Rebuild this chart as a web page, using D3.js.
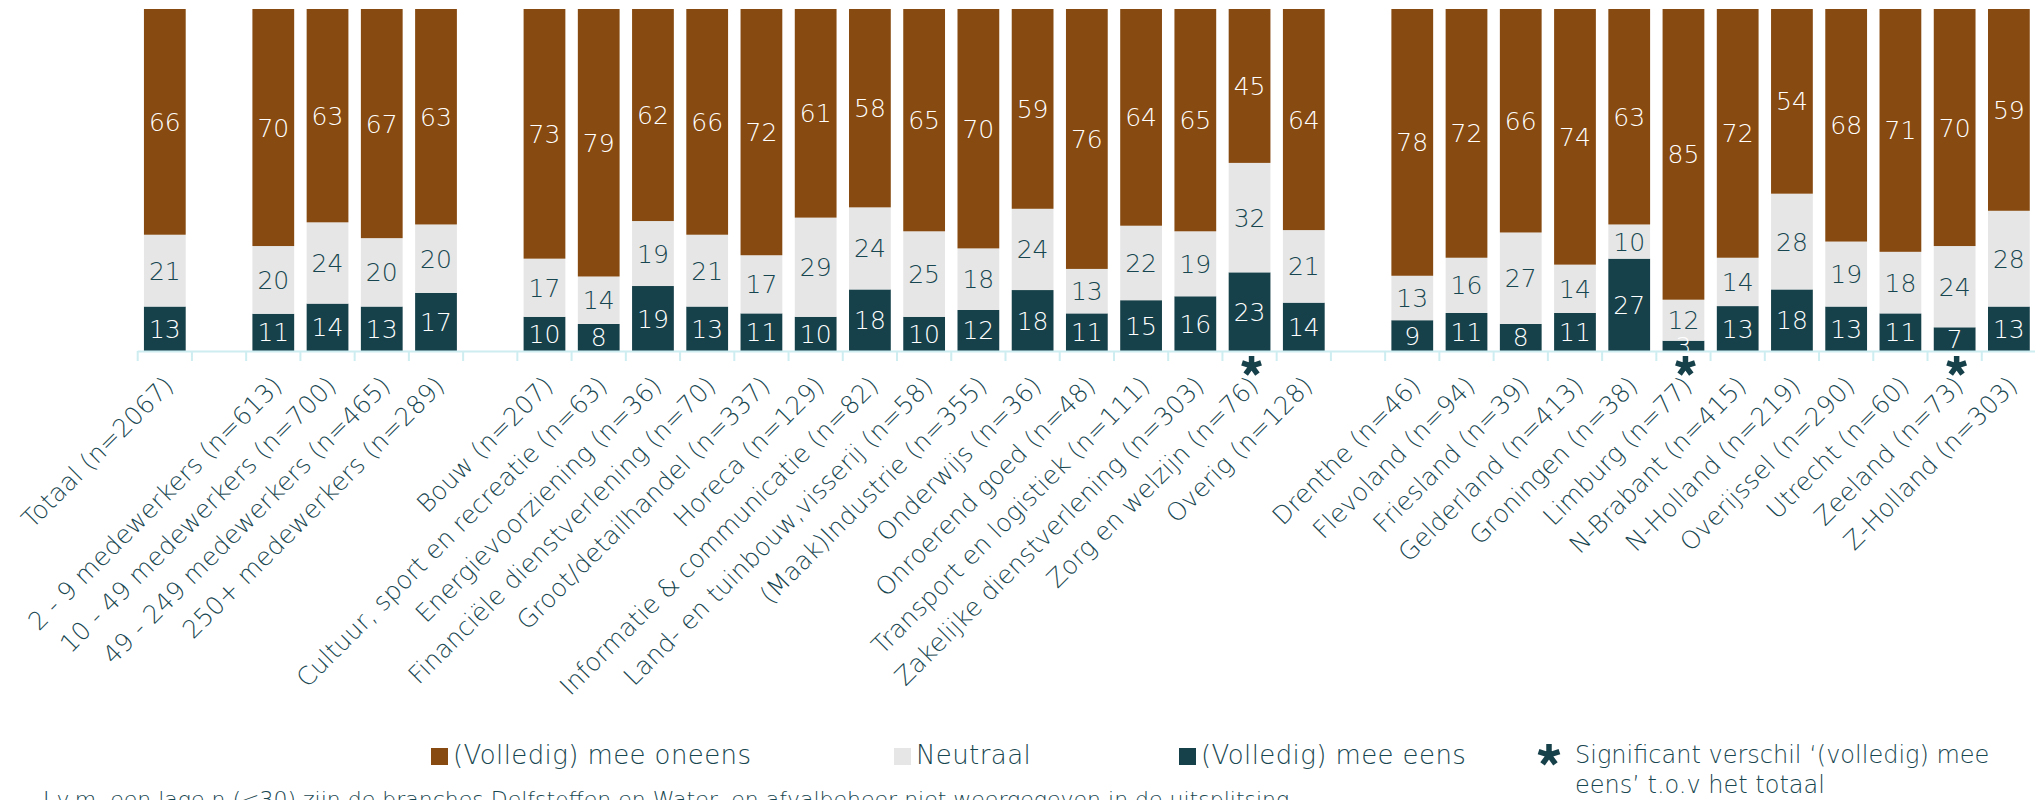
<!DOCTYPE html>
<html>
<head>
<meta charset="utf-8">
<script src="https://cdn.jsdelivr.net/npm/d3@7"></script>
<style>
  body{margin:0;background:#fff;}
  svg{display:block;}
</style>
</head>
<body>
<div id="chart"></div>
<script>

// categorieen; een lege string is een lege kolom tussen de groepen
const categories = [
  'Totaal (n=2067)', '',
  '2 - 9 medewerkers (n=613)', '10 - 49 medewerkers (n=700)', '49 - 249 medewerkers (n=465)', '250+ medewerkers (n=289)', '',
  'Bouw (n=207)', 'Cultuur, sport en recreatie (n=63)', 'Energievoorziening (n=36)', 'Financiële dienstverlening (n=70)',
  'Groot/detailhandel (n=337)', 'Horeca (n=129)', 'Informatie & communicatie (n=82)', 'Land- en tuinbouw,visserij (n=58)',
  '(Maak)Industrie (n=355)', 'Onderwijs (n=36)', 'Onroerend goed (n=48)', 'Transport en logistiek (n=111)',
  'Zakelijke dienstverlening (n=303)', 'Zorg en welzijn (n=76)', 'Overig (n=128)', '',
  'Drenthe (n=46)', 'Flevoland (n=94)', 'Friesland (n=39)', 'Gelderland (n=413)', 'Groningen (n=38)', 'Limburg (n=77)',
  'N-Brabant (n=415)', 'N-Holland (n=219)', 'Overijssel (n=290)', 'Utrecht (n=60)', 'Zeeland (n=73)', 'Z-Holland (n=303)'
];

const oneens = [66, null, 70, 63, 67, 63, null, 73, 79, 62, 66, 72, 61, 58, 65, 70, 59, 76, 64, 65, 45, 64, null,
  78, 72, 66, 74, 63, 85, 72, 54, 68, 71, 70, 59];
const neutraal = [21, null, 20, 24, 20, 20, null, 17, 14, 19, 21, 17, 29, 24, 25, 18, 24, 13, 22, 19, 32, 21, null,
  13, 16, 27, 14, 10, 12, 14, 28, 19, 18, 24, 28];
const eens = [13, null, 11, 14, 13, 17, null, 10, 8, 19, 13, 11, 10, 18, 10, 12, 18, 11, 15, 16, 23, 14, null,
  9, 11, 8, 11, 27, 3, 13, 18, 13, 11, 7, 13];

// significant verschil '(volledig) mee eens' t.o.v. het totaal
const significant = ['Zorg en welzijn (n=76)', 'Limburg (n=77)', 'Zeeland (n=73)'];

const seriesKeys = ['eens', 'neutraal', 'oneens'];
const seriesNames = {oneens: '(Volledig) mee oneens', neutraal: 'Neutraal', eens: '(Volledig) mee eens'};
const footnote = 'I.v.m. een lage n (<30) zijn de branches Delfstoffen en Water- en afvalbeheer niet weergegeven in de uitsplitsing.';


class StackedBarChart{
  constructor(container){
    this.container = container;
    this.width = 2035;
    this.height = 800;
    this.left = 137.7;
    this.right = 2036;
    this.top = 9;
    this.bottom = 351;

    this.colors = {oneens: '#874a10', neutraal: '#e6e6e6', eens: '#17414a'};
    this.textColor = '#174650';
    this.axisColor = '#cdedf1';
    this.font = '"DejaVu Sans", sans-serif';

    this.svg = d3.select(this.container).append('svg')
      .attr('width', this.width)
      .attr('height', this.height)
      .style('background', '#fff');
  }

  draw(){
    var rows = [];
    for(var i = 0; i < categories.length; i++){
      if(!categories[i]) continue;
      rows.push({idx: i, name: categories[i], oneens: oneens[i], neutraal: neutraal[i], eens: eens[i]});
    }

    this.x = d3.scaleBand()
      .domain(d3.range(categories.length))
      .range([this.left, this.right])
      .paddingInner(0.23)
      .paddingOuter(0.115);

    this.y = d3.scaleLinear().domain([0, 1]).range([this.bottom, this.top]);

    // elke kolom telt op tot 100%
    var stacked = d3.stack().keys(seriesKeys).offset(d3.stackOffsetExpand)(rows);

    this.drawBars(stacked);
    this.drawAxis(rows);
    this.drawLegend();
  }

  drawBars(stacked){
    const x = this.x, y = this.y, that = this;

    const layer = this.svg.append('g').selectAll('g')
      .data(stacked)
      .join('g')
      .attr('fill', d => that.colors[d.key]);

    layer.selectAll('rect')
      .data(d => d)
      .join('rect')
      .attr('x', d => x(d.data.idx))
      .attr('y', d => y(d[1]))
      .attr('width', x.bandwidth())
      .attr('height', d => y(d[0]) - y(d[1]));

    const labels = this.svg.append('g')
      .style('font', '300 25px ' + this.font);

    stacked.forEach(function(s){
      labels.selectAll(null)
        .data(s)
        .join('text')
        .attr('x', d => x(d.data.idx) + x.bandwidth() / 2)
        .attr('y', d => (y(d[0]) + y(d[1])) / 2)
        .attr('dy', '0.36em')
        .attr('text-anchor', 'middle')
        .attr('fill', s.key === 'neutraal' ? that.textColor : '#fff')
        .text(d => d.data[s.key]);
    });
  }

  drawAxis(rows){
    const x = this.x, that = this;
    const step = x.step();
    const edges = d3.range(categories.length + 1).map(i => x.range()[0] + i * step);

    const axis = this.svg.append('g');
    axis.append('line')
      .attr('x1', edges[0]).attr('x2', edges[edges.length - 1])
      .attr('y1', this.bottom + 0.5).attr('y2', this.bottom + 0.5)
      .attr('stroke', this.axisColor).attr('stroke-width', 2);
    axis.selectAll('.tick')
      .data(edges)
      .join('line')
      .attr('class', 'tick')
      .attr('x1', d => d).attr('x2', d => d)
      .attr('y1', this.bottom).attr('y2', this.bottom + 10)
      .attr('stroke', this.axisColor).attr('stroke-width', 2);

    this.svg.append('g')
      .style('font', '200 25px ' + this.font)
      .attr('fill', this.textColor)
      .selectAll('text')
      .data(rows)
      .join('text')
      .attr('text-anchor', 'end')
      .attr('transform', d => `translate(${x(d.idx) + x.bandwidth() / 2 + 10},${that.bottom + 36}) rotate(-45)`)
      .text(d => d.name);

    // sterretjes onder de significante kolommen
    const star = this.asterisk(10);
    this.svg.append('g')
      .selectAll('path')
      .data(rows.filter(d => significant.indexOf(d.name) >= 0))
      .join('path')
      .attr('transform', d => `translate(${x(d.idx) + x.bandwidth() / 2 + 2},${that.bottom + 15})`)
      .attr('d', star)
      .attr('fill', 'none')
      .attr('stroke', this.colors.eens)
      .attr('stroke-width', 5.5);
  }

  asterisk(r){
    const type = {
      draw(context, size){
        for(var i = 0; i < 5; i++){
          var a = i * 2 * Math.PI / 5;
          context.moveTo(0, 0);
          context.lineTo(r * Math.sin(a), -r * Math.cos(a));
        }
      }
    };
    return d3.symbol().type(type)();
  }

  drawLegend(){
    const that = this;
    const items = [
      {key: 'oneens', x: 431},
      {key: 'neutraal', x: 894},
      {key: 'eens', x: 1179}
    ];
    const legend = this.svg.append('g')
      .style('font', '300 26px ' + this.font)
      .style('letter-spacing', '0.4px');

    const item = legend.selectAll('g')
      .data(items)
      .join('g')
      .attr('transform', d => `translate(${d.x},748)`);
    item.append('rect')
      .attr('width', 17).attr('height', 17)
      .attr('fill', d => that.colors[d.key]);
    item.append('text')
      .attr('x', 22).attr('y', 16)
      .attr('fill', this.textColor)
      .text(d => seriesNames[d.key]);

    legend.append('path')
      .attr('transform', 'translate(1549,755)')
      .attr('d', this.asterisk(11))
      .attr('fill', 'none')
      .attr('stroke', this.colors.eens)
      .attr('stroke-width', 5.5);

    const note = this.svg.append('text')
      .attr('fill', this.textColor)
      .style('font', '200 24px ' + this.font);
    note.append('tspan').attr('x', 1575).attr('y', 763).text('Significant verschil ‘(volledig) mee');
    note.append('tspan').attr('x', 1575).attr('y', 793).text('eens’ t.o.v het totaal');

    this.svg.append('text')
      .attr('x', 43).attr('y', 807)
      .attr('fill', this.textColor)
      .style('font', '200 22px ' + this.font)
      .text(footnote);
  }
}

const chart = new StackedBarChart('#chart');
chart.draw();
</script>
</body>
</html>
